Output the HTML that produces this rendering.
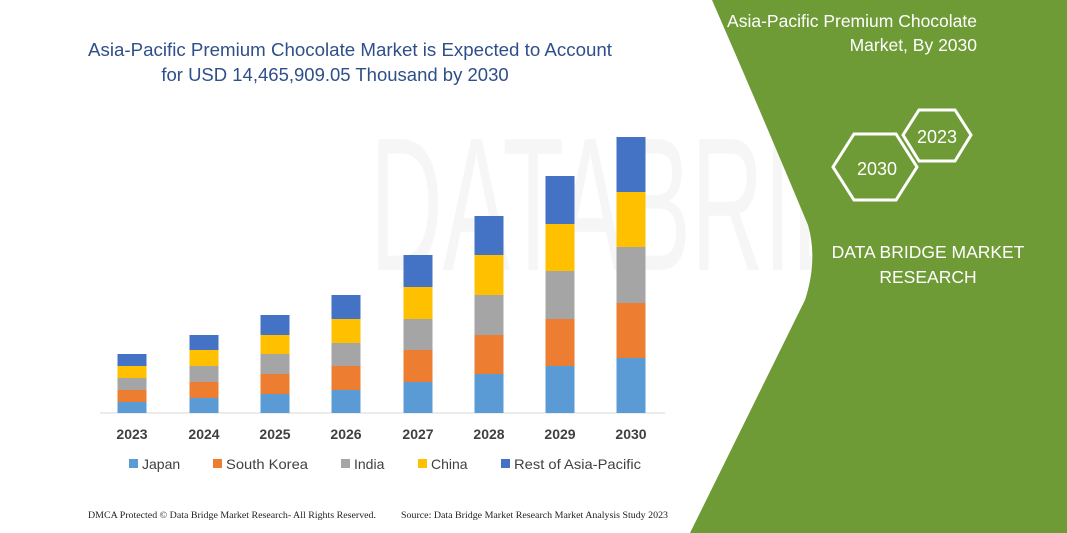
<!DOCTYPE html>
<html><head><meta charset="utf-8"><style>
html,body{margin:0;padding:0;background:#fff;}
body{width:1067px;height:533px;overflow:hidden;position:relative;font-family:"Liberation Sans",sans-serif;}
</style></head><body>
<svg width="1067" height="533" viewBox="0 0 1067 533" xmlns="http://www.w3.org/2000/svg" style="position:absolute;left:0;top:0">
<text x="370" y="270" font-family="Liberation Sans" font-size="190" fill="#f6f6f6" textLength="640" lengthAdjust="spacingAndGlyphs">DATABRIDGE</text>
<path d="M712,0 Q760,110 808,225 Q818,260 805,300 L690,533 L1067,533 L1067,0 Z" fill="#6f9b37"/>
<text x="350" y="56" text-anchor="middle" font-size="18.5" fill="#2f4f8a" textLength="524" lengthAdjust="spacingAndGlyphs">Asia-Pacific Premium Chocolate Market is Expected to Account</text>
<text x="335" y="81" text-anchor="middle" font-size="18.5" fill="#2f4f8a">for USD 14,465,909.05 Thousand by 2030</text>
<line x1="100" y1="413" x2="665" y2="413" stroke="#d9d9d9" stroke-width="1"/>
<g id="bars"></g>
<g font-size="14" font-weight="bold" fill="#404040" text-anchor="middle">
<text x="132" y="439">2023</text><text x="204" y="439">2024</text><text x="275" y="439">2025</text><text x="346" y="439">2026</text>
<text x="418" y="439">2027</text><text x="489" y="439">2028</text><text x="560" y="439">2029</text><text x="631" y="439">2030</text>
</g>
<g font-size="14" fill="#404040">
<rect x="129" y="459" width="9" height="9" fill="#5b9bd5"/><text x="142" y="469">Japan</text>
<rect x="213" y="459" width="9" height="9" fill="#ed7d31"/><text x="226" y="469" textLength="82" lengthAdjust="spacingAndGlyphs">South Korea</text>
<rect x="341" y="459" width="9" height="9" fill="#a5a5a5"/><text x="354" y="469">India</text>
<rect x="418" y="459" width="9" height="9" fill="#ffc000"/><text x="431" y="469">China</text>
<rect x="501" y="459" width="9" height="9" fill="#4472c4"/><text x="514" y="469" textLength="127" lengthAdjust="spacingAndGlyphs">Rest of Asia-Pacific</text>
</g>
<g font-family="Liberation Serif" font-size="9.5" fill="#222">
<text x="88" y="518" textLength="288" lengthAdjust="spacingAndGlyphs">DMCA Protected © Data Bridge Market Research- All Rights Reserved.</text>
<text x="401" y="518" textLength="267" lengthAdjust="spacingAndGlyphs">Source: Data Bridge Market Research Market Analysis Study 2023</text>
</g>
<g fill="#fff" font-size="17.5">
<text x="977" y="27" text-anchor="end">Asia-Pacific Premium Chocolate</text>
<text x="977" y="51" text-anchor="end">Market, By 2030</text>
<text x="928" y="258" text-anchor="middle">DATA BRIDGE MARKET</text>
<text x="928" y="283" text-anchor="middle">RESEARCH</text>
<text x="877" y="175" text-anchor="middle" font-size="18">2030</text>
<text x="937" y="143" text-anchor="middle" font-size="18">2023</text>
</g>
<polygon points="833,167 854,134 896,134 917,167 896,200 854,200" fill="none" stroke="#fff" stroke-width="3"/>
<polygon points="903,135 919,110 955,110 971,135 955,161 919,161" fill="none" stroke="#fff" stroke-width="3"/>
</svg>
<script>
var d=[[132,413,402,390,378,366,354],[204,413,398,382,366,350,335],[275,413,394,374,354,335,315],[346,413,390,366,343,319,295],[418,413,382,350,319,287,255],[489,413,374,335,295,255,216],[560,413,366,319,271,224,176],[631,413,358,303,247,192,137]];
var c=["#5b9bd5","#ed7d31","#a5a5a5","#ffc000","#4472c4"];
var g=document.getElementById("bars"),s="";
d.forEach(function(b){for(var i=0;i<5;i++){s+='<rect x="'+(b[0]-14.5)+'" y="'+b[i+2]+'" width="29" height="'+(b[i+1]-b[i+2])+'" fill="'+c[i]+'"/>';}});
g.innerHTML=s;
</script>
</body></html>
